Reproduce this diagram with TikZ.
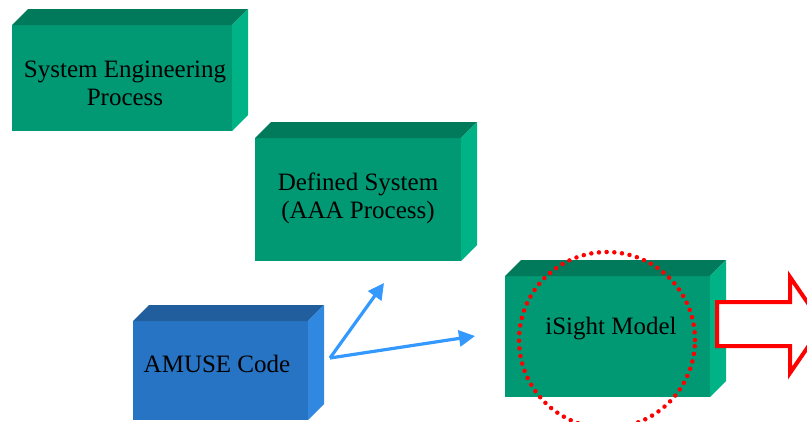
\documentclass[tikz,border=0pt]{standalone}
\usepackage{fontspec}
\setmainfont{Liberation Serif}
\usetikzlibrary{arrows.meta}
\definecolor{gfront}{RGB}{0,153,115}
\definecolor{gtop}{RGB}{0,122,90}
\definecolor{gside}{RGB}{0,179,134}
\definecolor{bfront}{RGB}{40,116,196}
\definecolor{btop}{RGB}{32,94,158}
\definecolor{bside}{RGB}{48,136,224}
\definecolor{barrow}{RGB}{51,153,255}
\newcommand{\threedbox}[8]{%
  \node[fill=#6, inner sep=0pt, outer sep=0pt, minimum width={(#4-#2)*1pt}, minimum height={(#5-#3)*1pt}, anchor=north west] (#1) at (#2,#3) {};
  \fill[#7] (#1.north west) -- ++(16pt,16pt) -- ([shift={(16pt,16pt)}]#1.north east) -- (#1.north east) -- cycle;
  \fill[#8] (#1.north east) -- ++(16pt,16pt) -- ([shift={(16pt,16pt)}]#1.south east) -- (#1.south east) -- cycle;
}
\tikzset{
  lbl/.style={align=center, inner sep=0pt, font=\fontsize{25}{28}\selectfont},
  bluearrow/.style={draw=barrow, line width=3.2pt, -{Triangle[length=16pt,width=16pt]}},
}
\begin{document}
\begin{tikzpicture}[x=1pt,y=-1pt]
\useasboundingbox (0,0) rectangle (807,421);
\clip (0,0) rectangle (807,421);
\fill[white] (0,0) rectangle (807,421);
\threedbox{sep}{12}{25}{232}{131}{gfront}{gtop}{gside}
\threedbox{ds}{255}{138}{461}{261}{gfront}{gtop}{gside}
\threedbox{am}{133}{321}{308}{420}{bfront}{btop}{bside}
\threedbox{is}{505}{276}{710}{397}{gfront}{gtop}{gside}
\node[lbl] (sept) at (125,83) {System Engineering\\Process};
\node[lbl] (dst) at (358,198) {Defined System\\(AAA Process)};
\node[lbl, anchor=base] (amt) at (217,372) {AMUSE Code};
\node[lbl, anchor=base] (ist) at (611,334) {iSight Model};
\node[circle, minimum size=176pt, inner sep=0pt, draw=red, line width=4.5pt, line cap=round, dash pattern=on 0pt off 7.7pt] (ring) at (607,340) {};
\draw[red, line width=4pt, fill=white, line join=miter] (717,302) -- (790,302) -- (790,277) -- (823,325) -- (790,373) -- (790,346) -- (717,346) -- cycle;
\coordinate (src) at (330,358);
\coordinate (e1) at (384,283);
\coordinate (e2) at (475,336);
\draw[bluearrow] (src) -- (e1);
\draw[bluearrow] (src) -- (e2);
\end{tikzpicture}
\end{document}
